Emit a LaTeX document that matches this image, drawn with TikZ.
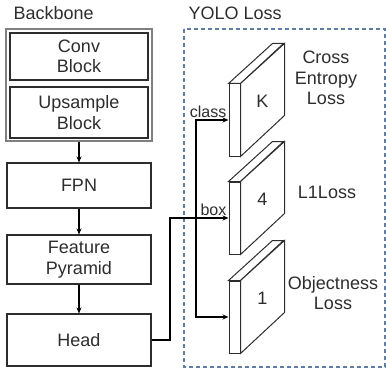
\documentclass[tikz,border=0pt]{standalone}
\usepackage{fontspec}
\setmainfont{Liberation Sans}
\usetikzlibrary{arrows.meta}

\definecolor{ink}{RGB}{45,45,45}
\definecolor{dashblue}{RGB}{95,125,165}

\begin{document}
\begin{tikzpicture}
  [x=1pt,y=-1pt,
   every node/.style={text=ink,font=\fontsize{18}{20.5}\selectfont},
   blk/.style={draw=ink,line width=1.1pt,fill=white,align=center,minimum width=144pt},
   inblk/.style={blk,minimum width=138pt},
   slab/.style={draw=ink,line width=1pt,fill=white,minimum width=11pt,minimum height=72pt,inner sep=0pt},
   arr/.style={draw=black,line width=1.4pt,-{Stealth[length=6pt,width=5pt]}},
   tag/.style={font=\fontsize{16}{17}\selectfont,inner sep=1.5pt}]

  \useasboundingbox (0,0) rectangle (386,369);

  % backbone column
  \node[anchor=west] at (10,13) {Backbone};
  \node (bb) at (79,85) [draw=gray,line width=1.6pt,minimum width=146pt,minimum height=112pt] {};
  \node (conv) at (79,56.5) [inblk,minimum height=47pt] {Conv\\Block};
  \node (up) at (79,112.5) [inblk,minimum height=51pt] {Upsample\\Block};
  \node (fpn) at (79,185.5) [blk,minimum height=45pt] {FPN};
  \node (feat) at (79,259.5) [blk,minimum height=49pt] {Feature\\Pyramid};
  \node (head) at (79,340) [blk,minimum height=52pt] {Head};

  \draw[arr] (bb) -- (fpn);
  \draw[arr] (fpn) -- (feat);
  \draw[arr] (feat) -- (head);

  % loss side
  \node[anchor=west] at (185,13) {YOLO Loss};
  \draw[dashblue,line width=1.1pt,dash pattern=on 4pt off 3pt] (184,29) rectangle (385,367);

  \foreach \n/\y in {K/120,4/218,1/317}{
    \node (p\n) at (234.5,\y) [slab] {};
    \draw[ink,line width=1pt,fill=white] (p\n.north west) -- ++(44,-40) -- ++(11,0) -- (p\n.north east) -- cycle;
    \draw[ink,line width=1pt,fill=white] (p\n.north east) -- ++(44,-40) -- ++(0,72) -- (p\n.south east) -- cycle;
    \node at ([shift={(22,-19)}]p\n.east) {\n};
  }

  \node at (326,78) [align=center] {Cross\\Entropy\\Loss};
  \node at (327,192) {L1Loss};
  \node at (333,293) [align=center] {Objectness\\Loss};

  % head output split to the three losses
  \coordinate (bus) at (196,218);
  \draw[arr] (head.east) -- (170,340) -- (170,218) -- (p4.west) node[tag,pos=1,above left] {box};
  \draw[arr] (bus) |- (pK.west) node[tag,pos=1,above left] {class};
  \draw[arr] (bus) |- (p1.west);
\end{tikzpicture}
\end{document}
